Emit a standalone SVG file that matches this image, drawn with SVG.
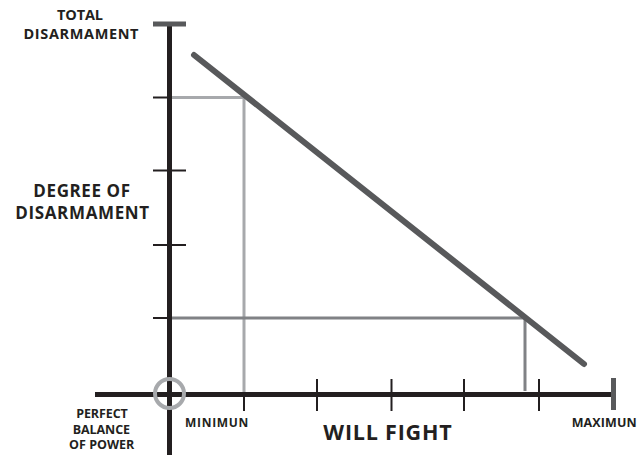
<svg xmlns="http://www.w3.org/2000/svg" width="639" height="465" viewBox="0 0 639 465">
<style>
text{font-family:"Open Sans","Liberation Sans",sans-serif;font-weight:700;fill:#231f20;text-anchor:middle}
.ax{stroke:#231f20;stroke-width:5;fill:none}
.tk{stroke:#231f20;stroke-width:2;fill:none}
.cap{stroke:#58595b;stroke-width:5;fill:none}
</style>
<rect width="639" height="465" fill="#fff"/>
<g id="ticks">
<line class="tk" x1="153" y1="97.5" x2="186" y2="97.5"/>
<line class="tk" x1="153" y1="170.5" x2="186" y2="170.5"/>
<line class="tk" x1="153" y1="245" x2="186" y2="245"/>
<line class="tk" x1="153" y1="318" x2="186" y2="318"/>
<line class="tk" x1="244" y1="379" x2="244" y2="411"/>
<line class="tk" x1="317" y1="379" x2="317" y2="411"/>
<line class="tk" x1="391.5" y1="379" x2="391.5" y2="411"/>
<line class="tk" x1="464" y1="379" x2="464" y2="411"/>
<line class="tk" x1="539" y1="379" x2="539" y2="411"/>
</g>
<g id="guides" fill="none" stroke-width="3">
<polyline points="170,97.5 244,97.5 244,392" stroke="#a7a9ac"/>
<polyline points="170,318 525,318 525,391" stroke="#808285"/>
</g>
<g id="axes">
<line class="ax" x1="169.5" y1="22" x2="169.5" y2="455"/>
<line class="ax" x1="95" y1="394.5" x2="613" y2="394.5"/>
<line class="cap" x1="153" y1="24" x2="186" y2="24"/>
<line class="cap" x1="613.5" y1="378" x2="613.5" y2="410"/>
</g>
<circle id="origin" cx="169.5" cy="393.5" r="14.5" fill="none" stroke="#a7a9ac" stroke-width="4"/>
<line id="curve" x1="194" y1="55" x2="584" y2="364" stroke="#58595b" stroke-width="6" stroke-linecap="round"/>
<g id="labels">
<text x="80" y="20" font-size="14.5" textLength="46" lengthAdjust="spacing">TOTAL</text>
<text x="81" y="38.5" font-size="14.5" textLength="115" lengthAdjust="spacing">DISARMAMENT</text>
<text x="81.7" y="196.7" font-size="17" textLength="96.7" lengthAdjust="spacing">DEGREE OF</text>
<text x="82.2" y="218.5" font-size="17" textLength="134" lengthAdjust="spacing">DISARMAMENT</text>
<text x="102" y="417.5" font-size="12.5" textLength="51.7" lengthAdjust="spacing">PERFECT</text>
<text x="101.4" y="433.5" font-size="12.5" textLength="57.3" lengthAdjust="spacing">BALANCE</text>
<text x="101.7" y="449" font-size="12.5" textLength="65.3" lengthAdjust="spacing">OF POWER</text>
<text x="216.7" y="427" font-size="12" textLength="63.3" lengthAdjust="spacing">MINIMUN</text>
<text x="387.5" y="440" font-size="21.5" textLength="128.3" lengthAdjust="spacing">WILL FIGHT</text>
<text x="604.2" y="427" font-size="12.5" textLength="65" lengthAdjust="spacing">MAXIMUN</text>
</g>
</svg>
